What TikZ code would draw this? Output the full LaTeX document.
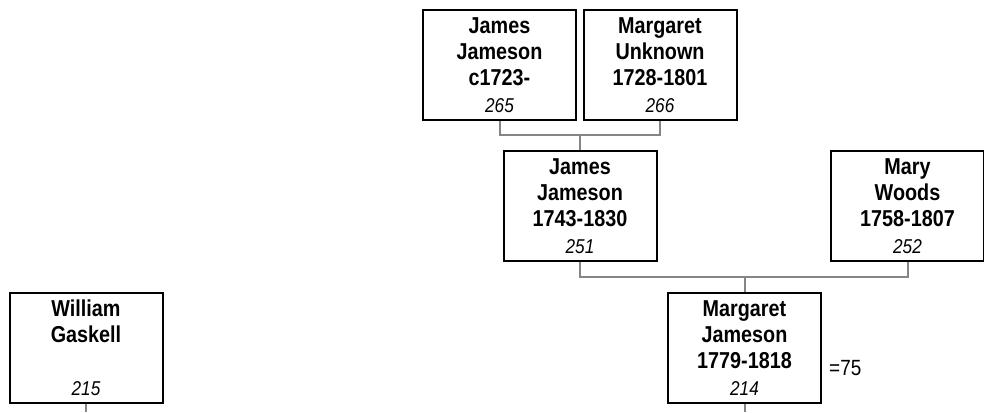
\documentclass[tikz,border=0pt]{standalone}
\usepackage{fontspec}
\setmainfont{Liberation Sans}[FakeStretch=0.86]
\newcommand\idnum[1]{{\fontsize{20}{28}\selectfont\mdseries\itshape #1}}
\tikzset{
  person/.style={draw=black, line width=2pt, minimum width=153pt, minimum height=110pt, inner sep=0pt},
  names/.style={anchor=north, inner sep=0pt, align=center, font=\fontsize{23}{26}\selectfont\bfseries},
  link/.style={draw=black!48, line width=2pt},
}
\begin{document}
\begin{tikzpicture}[x=1pt,y=-1pt]
\useasboundingbox (0,0) rectangle (984,412);
% boxes
\node[person] (b265) at (499.5,65) {};
\node[person] (b266) at (660,65) {};
\node[person] (b251) at (580,206) {};
\node[person] (b252) at (907.5,206) {};
\node[person] (b214) at (744.5,347.5) {};
\node[person] (b215) at (86,347.5) {};
% texts
\node[names] (t265) at ([yshift=-8.5pt]b265.north) {James\\Jameson\\c1723-\\[1pt]\idnum{265}};
\node[names] (t266) at ([yshift=-8.5pt]b266.north) {Margaret\\Unknown\\1728-1801\\[1pt]\idnum{266}};
\node[names] (t251) at ([yshift=-8.5pt]b251.north) {James\\Jameson\\1743-1830\\[1pt]\idnum{251}};
\node[names] (t252) at ([yshift=-8.5pt]b252.north) {Mary\\Woods\\1758-1807\\[1pt]\idnum{252}};
\node[names] (t214) at ([yshift=-8.5pt]b214.north) {Margaret\\Jameson\\1779-1818\\[1pt]\idnum{214}};
\node[names] (t215) at ([yshift=-8.5pt]b215.north) {William\\Gaskell\\\mbox{}\\[1pt]\idnum{215}};
\node[anchor=base west, inner sep=0pt, font=\fontsize{22}{26}\selectfont] (sp) at (829,375) {=75};
% connectors
\coordinate (j1) at (580,135);
\coordinate (j2) at (744.5,277);
\coordinate (e214) at (744.5,412);
\coordinate (e215) at (86,412);
\draw[link] (b265.south) |- (j1) -| (b266.south);
\draw[link] (j1) -- (b251.north);
\draw[link] (b251.south) |- (j2) -| (b252.south);
\draw[link] (j2) -- (b214.north);
\draw[link] (b214.south) -- (e214);
\draw[link] (b215.south) -- (e215);
\end{tikzpicture}
\end{document}
